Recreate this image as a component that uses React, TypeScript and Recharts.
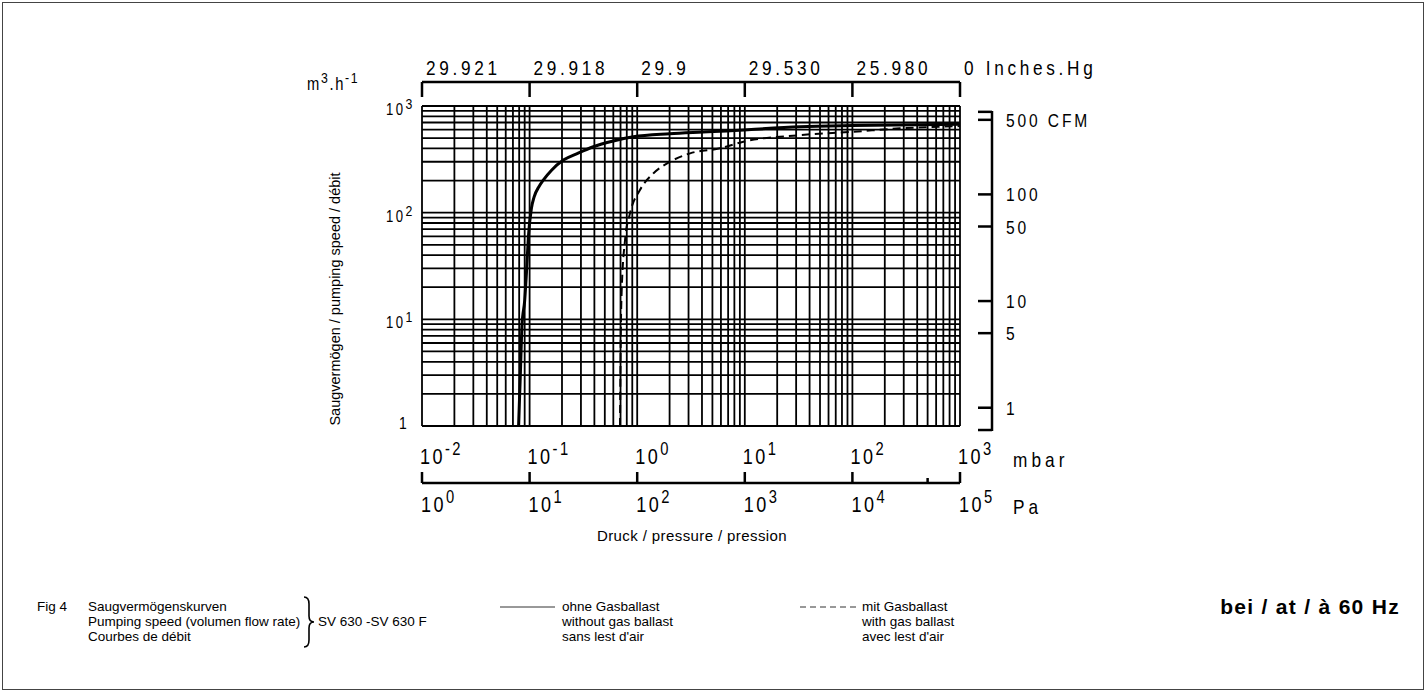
import React from 'react';
import { ComposedChart, Line, XAxis, YAxis, CartesianGrid } from 'recharts';

// ---- data ----
// pressure (mbar) and pumping speed (m3/h) without gas ballast
const solidP = [0.079, 0.082, 0.085, 0.09, 0.094, 0.0973, 0.104, 0.11, 0.122, 0.134, 0.16, 0.206, 0.28, 0.391, 0.6, 0.92, 2, 3.7, 5.9, 32.6, 100, 1000];
const solidS = [1, 3, 8.8, 15, 30, 58, 110, 140, 175, 202, 250, 311, 360, 415, 470, 515, 550, 568, 580, 638, 655, 673];
// with gas ballast
const dashP = [0.692, 0.706, 0.718, 0.771, 0.857, 1.06, 1.41, 2.02, 3.1, 5.9, 9.7, 32.6, 101, 277, 1000];
const dashS = [1, 9.2, 18.8, 55.4, 98.5, 163, 233, 300, 360, 401, 462, 533, 573, 617, 648];

// ---- ticks ----
const xGrid = [
  0.01, 0.02, 0.03, 0.04, 0.05, 0.06, 0.07, 0.08, 0.09,
  0.1, 0.2, 0.3, 0.4, 0.5, 0.6, 0.7, 0.8, 0.9,
  1, 2, 3, 4, 5, 6, 7, 8, 9,
  10, 20, 30, 40, 50, 60, 70, 80, 90,
  100, 200, 300, 400, 500, 600, 700, 800, 900,
  1000,
];
const yGrid = [
  1, 2, 3, 4, 5, 6, 7, 8, 9,
  10, 20, 30, 40, 50, 60, 70, 80, 90,
  100, 200, 300, 400, 500, 600, 700, 800, 900,
  1000,
];
const mbarDecades = [0.01, 0.1, 1, 10, 100, 1000];
const mbarExps = ['-2', '-1', '0', '1', '2', '3'];
const inchesLabels = ['29.921', '29.918', '29.9', '29.530', '25.980', '0 Inches.Hg'];
const paTicks = [1, 10, 100, 1000, 10000, 50000, 100000];
const paExps = ['0', '1', '2', '3', '4', '', '5'];
const m3Ticks = [1, 10, 100, 1000];
const m3Labels = ['1', '10|1', '10|2', '10|3'];
const cfmTicks = [0.618, 1, 5, 10, 50, 100, 500, 594];
const cfmLabels = ['', '1', '5', '10', '50', '100', '500 CFM', ''];

const solidData = solidP.map((p, i) => ({ p, s: solidS[i] }));
const dashData = dashP.map((p, i) => ({ p, s: dashS[i] }));

const SANS = "'Liberation Sans', Arial, sans-serif";
const SX = 0.82; // horizontal squeeze for the plotter-style lettering

const idxOf = (arr: number[], v: number) => arr.findIndex((a) => Math.abs(a - v) / a < 1e-6);

const NText = ({ x, y, size, ls, children }: any) => (
  <g transform={`translate(${x} ${y}) scale(${SX} 1)`}>
    <text x={0} y={0} fontFamily={SANS} fontSize={size} letterSpacing={ls} fill="#000">
      {children}
    </text>
  </g>
);

const Pow = ({ x, y, exp, size, supSize, dy, ls }: any) => (
  <NText x={x} y={y} size={size} ls={ls}>
    <tspan>10</tspan>
    <tspan dy={-dy} fontSize={supSize}>{exp}</tspan>
  </NText>
);

const MbarTick = (props: any) => {
  const { x, y, payload } = props;
  const i = idxOf(mbarDecades, payload.value);
  if (i < 0) return <g />;
  return (
    <g>
      <Pow x={x - 2} y={y + 38} exp={mbarExps[i]} size={22} supSize={18} dy={9} ls={3} />
      {i === mbarDecades.length - 1 && (
        <NText x={x + 53} y={y + 41} size={21} ls={5}>mbar</NText>
      )}
    </g>
  );
};

const PaTick = (props: any) => {
  const { x, y, payload } = props;
  const i = idxOf(paTicks, payload.value);
  if (i < 0) return <g />;
  const minor = paExps[i] === '';
  return (
    <g>
      <line x1={x} y1={y} x2={x} y2={y - (minor ? 5 : 11)} stroke="#000" strokeWidth={2.5} />
      {!minor && <Pow x={x - 1} y={y + 29} exp={paExps[i]} size={22} supSize={18} dy={9} ls={3} />}
      {i === paTicks.length - 1 && (
        <NText x={x + 53} y={y + 31} size={21} ls={5}>Pa</NText>
      )}
    </g>
  );
};

const TOP_GAP = 24;
const InchTick = (props: any) => {
  const { x, y, payload } = props;
  const i = idxOf(mbarDecades, payload.value);
  if (i < 0) return <g />;
  const ly = y - TOP_GAP;
  return (
    <g>
      <line x1={x} y1={ly} x2={x} y2={ly + 15} stroke="#000" strokeWidth={2.5} />
      <NText x={x + 4} y={ly - 7} size={21} ls={4.5}>{inchesLabels[i]}</NText>
    </g>
  );
};

const M3Tick = (props: any) => {
  const { x, y, payload } = props;
  const i = idxOf(m3Ticks, payload.value);
  if (i < 0) return <g />;
  const lab = m3Labels[i];
  if (lab.indexOf('|') < 0) {
    return <NText x={x - 23} y={y + 3} size={17} ls={0}>{lab}</NText>;
  }
  const exp = lab.split('|')[1];
  return <Pow x={x - 36} y={y + 9} exp={exp} size={16} supSize={15} dy={6} ls={3} />;
};

const RIGHT_GAP = 32;
const CfmTick = (props: any) => {
  const { x, y, payload } = props;
  const i = idxOf(cfmTicks, payload.value);
  if (i < 0) return <g />;
  const lx = x + RIGHT_GAP;
  return (
    <g>
      <line x1={lx - 14} y1={y} x2={lx} y2={y} stroke="#000" strokeWidth={2.5} />
      {cfmLabels[i] !== '' && (
        <NText x={lx + 14} y={y + 7} size={19} ls={3.5}>{cfmLabels[i]}</NText>
      )}
    </g>
  );
};

export default function App() {
  return (
    <div style={{ position: 'absolute', left: 0, top: 0, width: 1427, height: 692, background: '#fff' }}>
      <ComposedChart width={1427} height={692} data={solidData} margin={{ top: 32, right: 305, bottom: 139, left: 342 }}>
        <XAxis
          xAxisId="mbar" type="number" dataKey="p" scale="log" domain={[0.01, 1000]} allowDataOverflow
          ticks={xGrid} interval={0} orientation="bottom" height={57}
          tickSize={0} tickMargin={0} tickLine={false} axisLine={false} tick={MbarTick}
        />
        <XAxis
          xAxisId="pa" type="number" dataKey="p" scale="log" domain={[1, 100000]} allowDataOverflow
          ticks={paTicks} interval={0} orientation="bottom" height={70}
          tickSize={0} tickMargin={0} tickLine={false} axisLine={{ stroke: '#000', strokeWidth: 2.5 }} tick={PaTick}
        />
        <XAxis
          xAxisId="inch" type="number" dataKey="p" scale="log" domain={[0.01, 1000]} allowDataOverflow
          ticks={mbarDecades} interval={0} orientation="top" height={74}
          tickSize={0} tickMargin={0} tickLine={false}
          axisLine={{ stroke: '#000', strokeWidth: 2.5, transform: `translate(0,${-TOP_GAP})` }} tick={InchTick}
        />
        <YAxis
          yAxisId="m3" type="number" dataKey="s" scale="log" domain={[1, 1000]} allowDataOverflow
          ticks={yGrid} interval={0} orientation="left" width={80}
          tickSize={0} tickMargin={0} tickLine={false} axisLine={false} tick={M3Tick}
        />
        <YAxis
          yAxisId="cfm" type="number" dataKey="s" scale="log" domain={[0.674, 674]} allowDataOverflow
          ticks={cfmTicks} interval={0} orientation="right" width={162}
          tickSize={0} tickMargin={0} tickLine={false}
          axisLine={{ stroke: '#000', strokeWidth: 2.5, transform: `translate(${RIGHT_GAP},5)` }} tick={CfmTick}
        />
        <CartesianGrid
          xAxisId="mbar" yAxisId="m3" stroke="#000" strokeWidth={1.8}
          horizontalValues={yGrid} verticalValues={xGrid}
        />
        <Line
          xAxisId="mbar" yAxisId="m3" data={solidData} dataKey="s" type="monotone"
          stroke="#000" strokeWidth={3} dot={false} activeDot={false} isAnimationActive={false}
        />
        <Line
          xAxisId="mbar" yAxisId="m3" data={dashData} dataKey="s" type="monotone"
          stroke="#000" strokeWidth={2} strokeDasharray="8 5" dot={false} activeDot={false} isAnimationActive={false}
        />
      </ComposedChart>

      <svg width={1427} height={692} style={{ position: 'absolute', left: 0, top: 0, pointerEvents: 'none' }}>
        <rect x={2.5} y={2.5} width={1421} height={687} fill="none" stroke="#444" strokeWidth={1} />
        <NText x={307} y={90} size={18} ls={2}>
          <tspan>m</tspan>
          <tspan dy={-7} fontSize={15}>3</tspan>
          <tspan dy={7}>.h</tspan>
          <tspan dy={-7} fontSize={15}>-1</tspan>
        </NText>
        <text
          x={335} y={299} transform="rotate(-90 335 299)" textAnchor="middle" dominantBaseline="central"
          fontFamily={SANS} fontSize={14.5} fill="#000"
        >
          Saugvermögen / pumping speed / débit
        </text>
        <text x={692} y={541} textAnchor="middle" fontFamily={SANS} fontSize={15} letterSpacing={0.4} fill="#000">
          Druck / pressure / pression
        </text>

        <g fontFamily={SANS} fontSize={13.5} fill="#000">
          <text x={37} y={611}>Fig 4</text>
          <text x={88} y={611}>Saugvermögenskurven</text>
          <text x={88} y={626}>Pumping speed (volumen flow rate)</text>
          <text x={88} y={641}>Courbes de débit</text>
          <text x={318} y={626}>SV 630 -SV 630 F</text>
          <text x={562} y={611}>ohne Gasballast</text>
          <text x={562} y={626}>without gas ballast</text>
          <text x={562} y={641}>sans lest d'air</text>
          <text x={862} y={611}>mit Gasballast</text>
          <text x={862} y={626}>with gas ballast</text>
          <text x={862} y={641}>avec lest d'air</text>
        </g>
        <path
          d="M304 597 Q309 597 309 604 L309 616 Q309 622 314 622 Q309 622 309 628 L309 640 Q309 647 304 647"
          fill="none" stroke="#000" strokeWidth={1.6}
        />
        <line x1={500} y1={607} x2={555} y2={607} stroke="#333" strokeWidth={1} />
        <line x1={800} y1={607} x2={856} y2={607} stroke="#333" strokeWidth={1} strokeDasharray="6 4" />
        <text x={1400} y={614} textAnchor="end" fontFamily={SANS} fontSize={21} fontWeight="bold" letterSpacing={1.3} fill="#000">
          bei / at / à 60 Hz
        </text>
      </svg>
    </div>
  );
}
